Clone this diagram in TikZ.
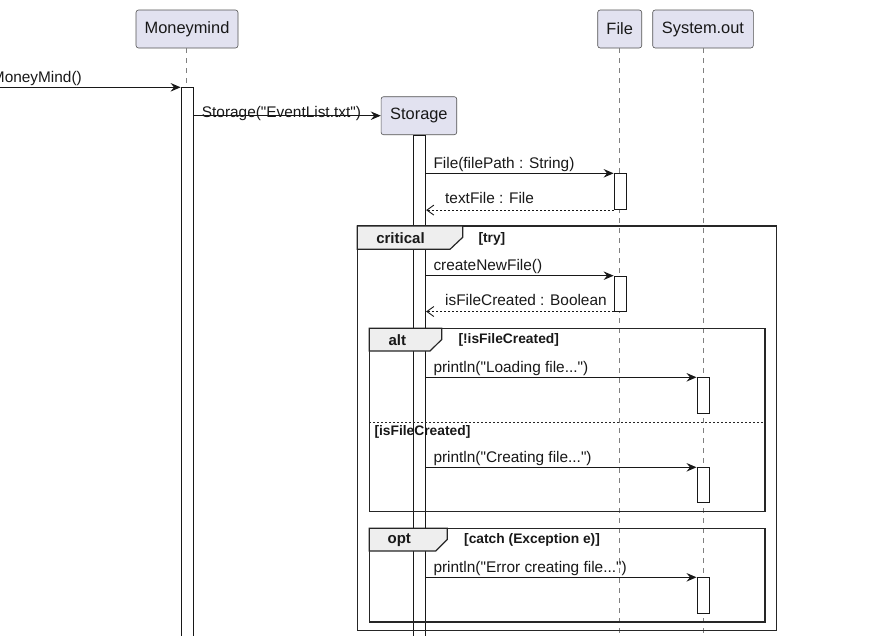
\documentclass[tikz,border=0pt]{standalone}
\usepackage{fontspec}
\setmainfont{Liberation Sans}[Ligatures=TeXOff]
\usetikzlibrary{arrows.meta}
\definecolor{partfill}{HTML}{E2E2F0}
\definecolor{ink}{HTML}{181818}
\definecolor{tabfill}{HTML}{EEEEEE}
\begin{document}
\begin{tikzpicture}[x=1pt,y=-1pt,
  part/.style={draw=ink!75, fill=partfill, rounded corners=2.5pt, line width=0.6pt, minimum height=38pt, inner sep=0pt, font=\fontsize{16.4}{18}\selectfont, text=ink},
  act/.style={draw=ink, fill=white, line width=0.8pt, minimum width=12pt, inner sep=0pt},
  actline/.style={draw=ink, line width=0.8pt, minimum width=12.4pt, inner sep=0pt},
  life/.style={draw=ink!55, dash pattern=on 5pt off 5pt, line width=0.6pt},
  msg/.style={draw=ink, line width=0.9pt, -{Stealth[length=10pt,width=8.5pt,inset=3.5pt]}},
  ret/.style={draw=ink, line width=0.9pt, dash pattern=on 2pt off 2pt, -{Straight Barb[length=7pt,width=10pt]}},
  lbl/.style={anchor=base west, inner sep=0pt, font=\fontsize{15.4}{17}\selectfont, text=ink},
  frame/.style={draw=black!85, line width=1.4pt},
  tab/.style={draw=black!85, line width=1.2pt, fill=tabfill},
  tabtxt/.style={font=\bfseries\fontsize{15}{17}\selectfont, inner sep=0pt, text=ink},
  guard/.style={font=\bfseries\fontsize{13.8}{15}\selectfont, inner sep=0pt, anchor=west, text=ink},
  sep/.style={draw=black!85, line width=0.8pt, dash pattern=on 2pt off 2pt},
]
\useasboundingbox (0,0) rectangle (883,635);

% participants
\node[part, minimum width=102pt] (mm) at (187,29) {Moneymind};
\node[part, minimum width=75.7pt] (st) at (418.9,115.7) {Storage};
\node[part, minimum width=44pt] (fi) at (619.7,29) {File};
\node[part, minimum width=100.6pt] (so) at (703,29) {System.out};

% lifelines
\coordinate (mmend) at (186.5,87.3);
\coordinate (fiend) at (619,640);
\coordinate (soend) at (702.8,640);
\draw[life] (mm.south -| mmend) -- (mmend);
\draw[life] (fi.south -| fiend) -- (fiend);
\draw[life] (so.south -| soend) -- (soend);

% activations
\node[act, minimum height=560pt, anchor=north] (mmact) at (187,87.3) {};
\node[actline, minimum height=510pt, anchor=north] (stact) at (419.5,134.7) {};
\node[act, minimum height=36pt, anchor=north] (fa1) at (620,173.3) {};
\node[act, minimum height=35pt, anchor=north] (fa2) at (620,275.7) {};
\node[act, minimum height=35.4pt, anchor=north] (sa1) at (702.9,377.3) {};
\node[act, minimum height=35pt, anchor=north] (sa2) at (702.9,467.3) {};
\node[act, minimum height=35.4pt, anchor=north] (sa3) at (702.9,577.3) {};

% frames
\draw[frame] (357.3,226) rectangle (776.7,630.7);
\draw[tab] (357.3,226) -- (462.7,226) -- (462.7,237.3) -- (450,249.3) -- (357.3,249.3) -- cycle;
\node[tabtxt] (crit) at (400.5,238.5) {critical};
\node[guard] (try) at (478.3,238.5) {[try]};

\draw[frame] (369.3,328.3) rectangle (765,511.7);
\draw[tab] (369.3,328.3) -- (441.7,328.3) -- (441.7,339.5) -- (430,351) -- (369.3,351) -- cycle;
\node[tabtxt] (alt) at (397.3,340.3) {alt};
\node[guard] (g1) at (458.3,340.3) {[!isFileCreated]};
\draw[sep] (369.3,422.7) -- (765,422.7);
\node[guard] (g2) at (374.3,432.3) {[isFileCreated]};

\draw[frame] (369.3,528.3) rectangle (765,622);
\draw[tab] (369.3,528.3) -- (447.3,528.3) -- (447.3,539.5) -- (435.7,551) -- (369.3,551) -- cycle;
\node[tabtxt] (opt) at (399.3,540.3) {opt};
\node[guard] (g3) at (464,540.3) {[catch (Exception e)]};

% messages
\coordinate (start) at (-2,87.3);
\draw[msg] (start) -- (mmact.north west);
\node[lbl, anchor=base east] (l0) at (82,82.5) {MoneyMind()};

\draw[msg] (mmact.east |- st.west) -- (st.west);
\node[lbl] (l1) at (201.7,117.6) {Storage("EventList.txt")};

\draw[msg] (stact.east |- fa1.north) -- (fa1.north west);
\node[lbl] (l2) at (433.3,168.3) {File(filePath : String)};
\draw[ret] (fa1.south west) -- (stact.east |- fa1.south);
\node[lbl] (l3) at (445,203.3) {textFile : File};

\draw[msg] (stact.east |- fa2.north) -- (fa2.north west);
\node[lbl] (l4) at (433.3,270.7) {createNewFile()};
\draw[ret] (fa2.south west) -- (stact.east |- fa2.south);
\node[lbl] (l5) at (445,305.5) {isFileCreated : Boolean};

\draw[msg] (stact.east |- sa1.north) -- (sa1.north west);
\node[lbl] (l6) at (433.3,372.5) {println("Loading file...")};

\draw[msg] (stact.east |- sa2.north) -- (sa2.north west);
\node[lbl] (l7) at (433.3,462.5) {println("Creating file...")};

\draw[msg] (stact.east |- sa3.north) -- (sa3.north west);
\node[lbl] (l8) at (433.3,572.5) {println("Error creating file...")};
\end{tikzpicture}
\end{document}
